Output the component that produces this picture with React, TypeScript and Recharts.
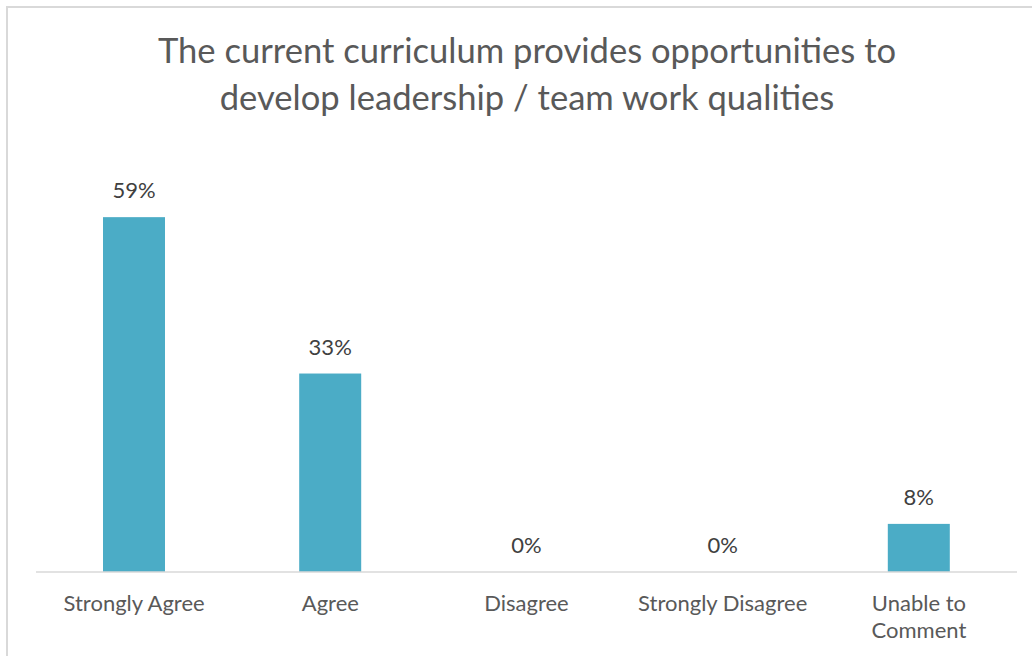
import React from "react";
import { BarChart, Bar, XAxis, YAxis } from "recharts";

const categories = ["Strongly Agree", "Agree", "Disagree", "Strongly Disagree", "Unable to\nComment"];
const values = [59, 33, 0, 0, 8];
const titleLines = ["The current curriculum provides opportunities to", "develop leadership / team work qualities"];

const data = categories.map((c, i) => ({ name: c, value: values[i] }));

const FONT = "Lato, 'Open Sans', sans-serif";

const Tick = (props: any) => {
  const { x, y, payload } = props;
  const lines = String(payload.value).split("\n");
  return (
    <g>
      {lines.map((l: string, i: number) => (
        <text key={i} x={x} y={y + 31 + i * 27} textAnchor="middle" fill="#595959" fontSize={22} fontFamily={FONT}>
          {l}
        </text>
      ))}
    </g>
  );
};

const BarWithLabel = (props: any) => {
  const { x, y, width, height, value, fill } = props;
  const v = Array.isArray(value) ? value[1] - value[0] : value;
  return (
    <g>
      {height > 0 && <rect x={x} y={y} width={width} height={height} fill={fill} />}
      <text x={x + width / 2} y={y - 19} textAnchor="middle" fill="#404040" fontSize={22} fontFamily={FONT}>
        {`${v}%`}
      </text>
    </g>
  );
};

export default function App() {
  return (
    <div style={{ position: "absolute", left: 0, top: 0, width: 1032, height: 656, background: "#fff", overflow: "hidden" }}>
      <div style={{ position: "absolute", left: 6, top: 6, width: 1100, height: 700, border: "2px solid #d9d9d9", boxSizing: "border-box" }} />
      <div style={{ position: "absolute", left: 0, top: 26, width: 1054, textAlign: "center", fontFamily: FONT, fontSize: 34.6, color: "#595959", lineHeight: "47px" }}>
        {titleLines.map((t, i) => (
          <div key={i}>{t}</div>
        ))}
      </div>
      <div style={{ position: "absolute", left: 0, top: 0 }}>
        <BarChart width={1032} height={656} data={data} margin={{ top: 151, right: 15, bottom: 24, left: 36 }} barCategoryGap={0}>
          <YAxis hide domain={[0, 70]} />
          <XAxis dataKey="name" height={60} axisLine={{ stroke: "#d9d9d9", strokeWidth: 1.5 }} tickLine={false} tick={<Tick />} interval={0} />
          <Bar dataKey="value" fill="#4BACC6" barSize={62} isAnimationActive={false} shape={<BarWithLabel />} />
        </BarChart>
      </div>
    </div>
  );
}
